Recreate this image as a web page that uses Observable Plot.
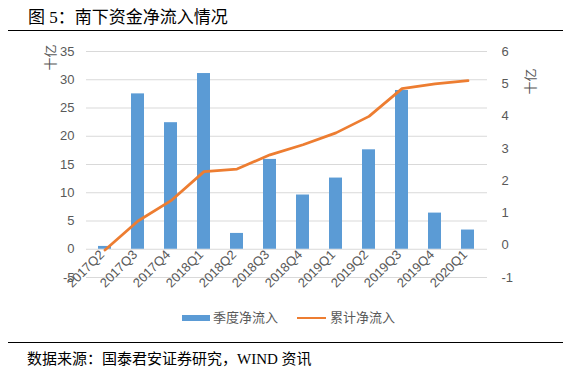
<!DOCTYPE html>
<html><head><meta charset="utf-8">
<script src="https://cdn.jsdelivr.net/npm/d3@7"></script>
<script src="https://cdn.jsdelivr.net/npm/@observablehq/plot@0.6"></script>
<style>
body{margin:0;background:#fff;}
#wrap{position:relative;width:573px;height:375px;overflow:hidden;background:#fff;}
.cap{position:absolute;font-family:"Liberation Serif","Noto Sans CJK SC",serif;color:#000;white-space:nowrap;}
.rule{position:absolute;left:8px;width:555px;height:0;border-top:1.5px solid #000;}
#chart{position:absolute;left:0;top:40px;}
#legend{position:absolute;top:309px;left:0;width:573px;height:18px;font-family:"Liberation Sans","Noto Sans CJK SC",sans-serif;font-size:13px;color:#595959;}
#legend .sw{position:absolute;}
#legend .lt{position:absolute;top:0;line-height:18px;}
</style>
</head><body>
<div id="wrap">
  <div class="cap" style="left:28px;top:7px;font-size:17px;line-height:22px;">图 5：南下资金净流入情况</div>
  <div class="rule" style="top:30px;"></div>
  <div id="chart"></div>
  <div id="legend">
    <div class="sw" style="left:182px;top:6px;width:28px;height:6px;background:#5b9bd5;"></div>
    <div class="lt" style="left:213px;">季度净流入</div>
    <div class="sw" style="left:297px;top:8px;width:29px;height:0;border-top:2.5px solid #ed7d31;"></div>
    <div class="lt" style="left:330px;">累计净流入</div>
  </div>
  <div class="rule" style="top:342px;"></div>
  <div class="cap" style="left:27px;top:348px;font-size:15px;line-height:22px;">数据来源：国泰君安证券研究，WIND 资讯</div>
</div>
<script>
const quarters = ["2017Q2","2017Q3","2017Q4","2018Q1","2018Q2","2018Q3","2018Q4","2019Q1","2019Q2","2019Q3","2019Q4","2020Q1"];
const quarterly = [0.5, 27.5, 22.4, 31.1, 2.8, 15.9, 9.6, 12.6, 17.6, 28.1, 6.4, 3.4];
const cumulative = [-0.15, 0.75, 1.38, 2.28, 2.36, 2.80, 3.11, 3.48, 3.99, 4.85, 5.00, 5.10];
const leftTicks = [-5, 0, 5, 10, 15, 20, 25, 30, 35];
const rightTicks = [-1, 0, 1, 2, 3, 4, 5, 6];
const unitLabel = "十亿";

// map right-axis values (-1..6) onto left-axis domain (-5..35)
const toLeft = r => (r + 1) * 40 / 7 - 5;
const data = quarters.map((q, i) => ({q, v: quarterly[i], c: cumulative[i]}));

const chart = Plot.plot({
  width: 573,
  height: 280,
  marginTop: 11,
  marginBottom: 43,
  marginLeft: 86,
  marginRight: 86,
  style: {fontFamily: "'Liberation Sans','Noto Sans CJK SC',sans-serif", fontSize: "13px", color: "#595959", background: "transparent", overflow: "visible"},
  x: {type: "band", domain: quarters, paddingInner: 0.6, paddingOuter: 0.3, axis: null},
  y: {domain: [-5, 35], axis: null},
  marks: [
    Plot.ruleY(leftTicks, {stroke: "#d9d9d9", strokeWidth: 1}),
    Plot.barY(data, {x: "q", y: "v", fill: "#5b9bd5"}),
    Plot.line(data, {x: "q", y: d => toLeft(d.c), stroke: "#ed7d31", strokeWidth: 2.75, strokeLinejoin: "round"}),
    Plot.text(leftTicks, {y: d => d, text: d => String(d), frameAnchor: "left", dx: -12, textAnchor: "end", fill: "#595959"}),
    Plot.text(rightTicks, {y: d => toLeft(d), text: d => String(d), frameAnchor: "right", dx: 14, textAnchor: "start", fill: "#595959"}),
    Plot.text(quarters, {x: d => d, text: d => d, frameAnchor: "bottom", dy: -22, rotate: -45, textAnchor: "end", fill: "#595959"}),
    Plot.text([unitLabel], {text: d => d, frameAnchor: "top-left", dx: -41, dy: 19, rotate: -90, fill: "#595959"}),
    Plot.text([unitLabel], {text: d => d, frameAnchor: "top-right", dx: 38, dy: 17, rotate: -90, fill: "#595959"})
  ]
});
document.getElementById("chart").appendChild(chart);
</script>
</body></html>
